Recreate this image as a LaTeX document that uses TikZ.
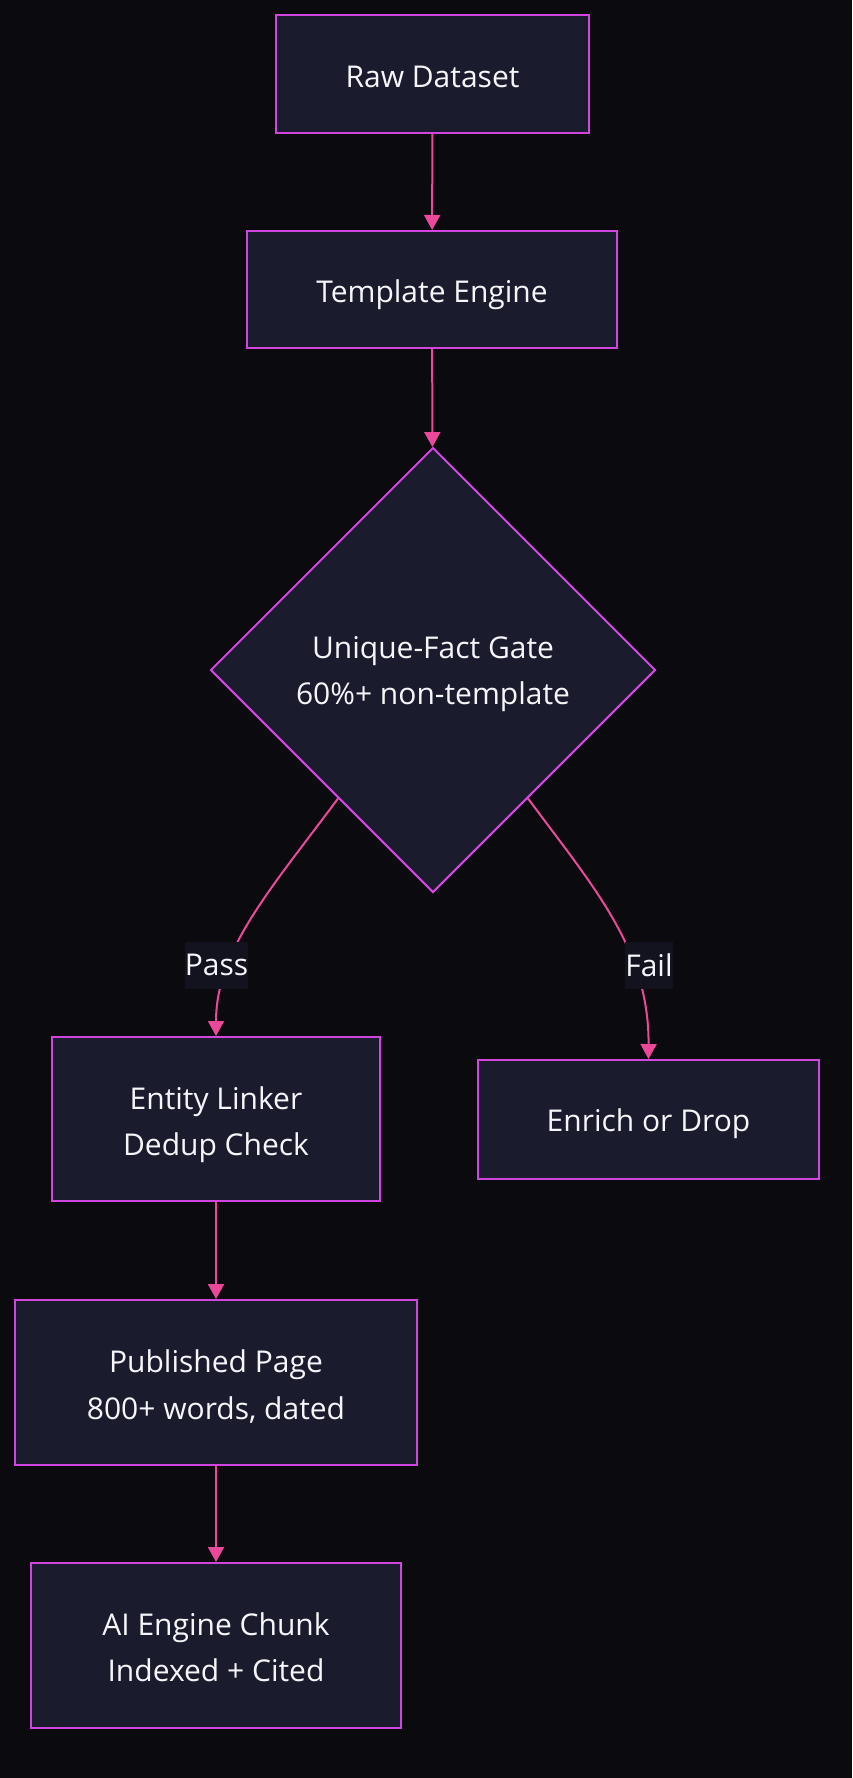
\documentclass[tikz,border=0pt]{standalone}
\usepackage{fontspec}
\setmainfont{Open Sans}
\usetikzlibrary{shapes.geometric,arrows.meta,calc}
\definecolor{bgc}{HTML}{0A0A0F}
\definecolor{nodefill}{HTML}{1B1B2E}
\definecolor{nodeborder}{HTML}{D246E0}
\definecolor{edgec}{HTML}{EC4899}
\definecolor{lblfill}{HTML}{13131F}
\definecolor{txt}{HTML}{F6F6FA}
\tikzset{
  x=1pt, y=-1pt,
  boxtext/.style={text=txt, align=center, font=\fontsize{30}{46.5}\selectfont, inner sep=0pt},
  box/.style={draw=nodeborder, fill=nodefill, line width=2pt, inner sep=0pt},
  gatebox/.style={diamond, draw=nodeborder, fill=nodefill, line width=2pt, inner sep=0pt,
    aspect=1, minimum width=445pt, minimum height=445pt},
  flow/.style={draw=edgec, line width=2pt, -{Triangle[width=16pt,length=15pt]}},
  lbl/.style={fill=lblfill, text=txt, font=\fontsize{30}{46.5}\selectfont, inner sep=0pt,
    minimum width=59pt, minimum height=47pt}
}
\begin{document}
\begin{tikzpicture}
\fill[bgc] (0,0) rectangle (852,1778);
\useasboundingbox (0,0) rectangle (852,1778);

\node[box, minimum width=313pt, minimum height=118pt,
  label={[boxtext, yshift=-3.4pt]center:Raw Dataset}] (raw) at (432.5,74) {};
\node[box, minimum width=370pt, minimum height=117pt,
  label={[boxtext, yshift=-5.6pt]center:Template Engine}] (tmpl) at (432,289.5) {};
\node[gatebox, label={[boxtext, yshift=-4pt]center:Unique-Fact Gate\\60\%+ non-template}] (gate) at (433,670) {};
\node[box, minimum width=328pt, minimum height=164pt,
  label={[boxtext, yshift=-5.5pt]center:Entity Linker\\Dedup Check}] (entity) at (216,1119) {};
\node[box, minimum width=341pt, minimum height=119pt,
  label={[boxtext, yshift=-4.5pt]center:Enrich or Drop}] (enrich) at (648.5,1119.5) {};
\node[box, minimum width=402pt, minimum height=165pt,
  label={[boxtext, yshift=-4pt]center:Published Page\\800+ words, dated}] (pub) at (216,1382.5) {};
\node[box, minimum width=370pt, minimum height=165pt,
  label={[boxtext, yshift=-1.8pt]center:AI Engine Chunk\\Indexed + Cited}] (ai) at (216,1645.5) {};

\draw[flow] (raw) -- (tmpl);
\draw[flow] (tmpl) -- (gate);
\draw[flow] ($(gate.south west)!0.15!(gate.south)$) .. controls (270,890) and (216,950) .. (entity.north);
\draw[flow] ($(gate.south east)!0.15!(gate.south)$) .. controls (596,890) and (649,950) .. (enrich.north);
\draw[flow] (entity) -- (pub);
\draw[flow] (pub) -- (ai);

\node[lbl] (passlbl) at (216.5,965) {Pass};
\node[lbl, minimum width=44pt] (faillbl) at (649,965) {Fail};
\end{tikzpicture}
\end{document}
